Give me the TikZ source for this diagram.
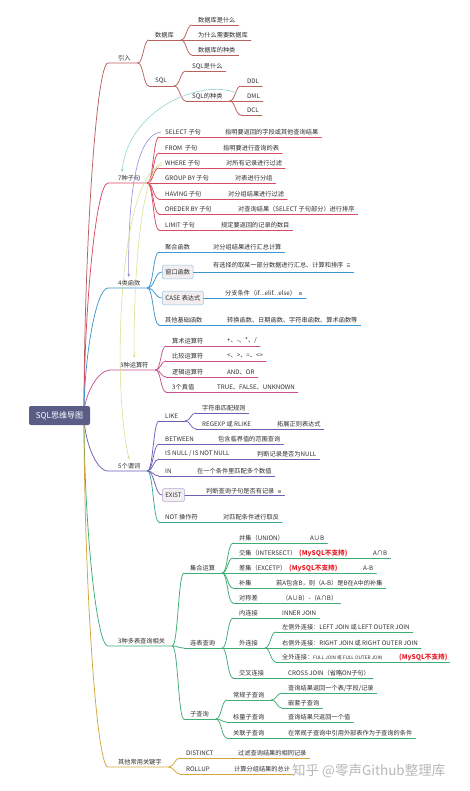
\documentclass[tikz,border=0pt]{standalone}
\usepackage{fontspec}
\setmainfont{Noto Sans CJK SC}
\usetikzlibrary{calc,arrows.meta}
\definecolor{cIntro}{HTML}{B8625E}
\definecolor{cClause}{HTML}{D94A63}
\definecolor{cFunc}{HTML}{3F96CF}
\definecolor{cOper}{HTML}{C8528F}
\definecolor{cPred}{HTML}{6B60B6}
\definecolor{cTeal}{HTML}{3FA796}
\definecolor{cMulti}{HTML}{40AD75}
\definecolor{cOther}{HTML}{D3A63C}
\definecolor{cRoot}{HTML}{5A5E86}
\definecolor{cTxt}{HTML}{2E2E2E}
\definecolor{cRed}{HTML}{E8202A}
\definecolor{cBoxFill}{HTML}{F2EEEF}
\definecolor{relTeal}{HTML}{8CCFD0}
\definecolor{relBlue}{HTML}{8F86DA}
\definecolor{relYel}{HTML}{D8E08E}
\tikzset{
  lbl/.style={font=\fontsize{6.2}{7}\selectfont, text=cTxt, inner sep=0pt, anchor=west},
  redlbl/.style={lbl, text=cRed, font=\fontsize{6.6}{7}\selectfont\bfseries},
  mmline/.style={line width=0.75pt, line cap=round},
  relline/.style={line width=0.55pt, -{Stealth[length=3.2pt,width=2.6pt]}},
  boxn/.style={font=\fontsize{6.2}{7}\selectfont, text=cTxt, draw=#1!55, fill=cBoxFill,
    rounded corners=1.5pt, inner xsep=3pt, inner ysep=4pt, anchor=west, line width=0.6pt},
  rootn/.style={font=\fontsize{8}{9}\selectfont, text=white, fill=cRoot, rounded corners=2pt,
    minimum width=61pt, minimum height=19pt, inner sep=0pt}
}
% curve between two named points
\newcommand{\mmcurve}[3]{%
  \draw[#1,mmline] (#2) .. controls ($(#2)!0.5!(#2 -| #3)$) and ($(#3)!0.5!(#3 -| #2)$) .. (#3);}
% first-level branch
\newcommand{\mmtop}[5]{%
  \node[lbl] (#2) at (#3,#4) {#5};
  \coordinate (#2-s) at ({#3-10},{#4+5});
  \coordinate (#2-f) at ($(#2.east |- #2-s)+(7,0)$);
  \draw[#1,mmline] (rt) .. controls ($(rt)!0.45!(rt |- #2-s)$) and ($(#2-s)+(-12,0)$) .. (#2-s) -- (#2-f);}
% inner node with children
\newcommand{\mmnode}[6]{%
  \node[lbl] (#3) at (#4,#5) {#6};
  \coordinate (#3-s) at ({#4-6},{#5+5});
  \coordinate (#3-f) at ($(#3.east |- #3-s)+(7,0)$);
  \mmcurve{#1}{#2}{#3-s}
  \draw[#1,mmline] (#3-s) -- (#3-f);}
% leaf without description
\newcommand{\mmend}[6]{%
  \node[lbl] (#3) at (#4,#5) {#6};
  \coordinate (#3-s) at ({#4-6},{#5+5});
  \coordinate (#3-e) at ($(#3.east |- #3-s)+(3,0)$);
  \mmcurve{#1}{#2}{#3-s}
  \draw[#1,mmline] (#3-s) -- (#3-e);}
% leaf with description
\newcommand{\mmleaf}[8]{%
  \node[lbl] (#3) at (#4,#5) {#6};
  \node[lbl] (#3-d) at (#7,#5) {#8};
  \coordinate (#3-s) at ({#4-6},{#5+5});
  \coordinate (#3-e) at ($(#3-d.east |- #3-s)+(3,0)$);
  \mmcurve{#1}{#2}{#3-s}
  \draw[#1,mmline] (#3-s) -- (#3-e);}
% boxed node with description and note icon
\newcommand{\mmboxed}[9]{%
  \node[boxn=#1] (#3) at (#4,#5) {#6};
  \node[lbl] (#3-d) at (#7,#8) {#9};
  \mmcurve{#1}{#2}{#3.west}
  \draw[#1,mmline] (#3.east) -- ($(#3-d.east |- #3.east)+(10,0)$);
  \draw[black!35, line width=0.4pt] ($(#3-d.east)+(3,-1.3)$) -- ++(3.2,0)
     ($(#3-d.east)+(3,0)$) -- ++(3.2,0) ($(#3-d.east)+(3,1.3)$) -- ++(3.2,0);}
\begin{document}
\begin{tikzpicture}[x=1pt,y=-1pt]
\fill[white] (0,0) rectangle (469,791);
\useasboundingbox (0,0) rectangle (469,791);
\coordinate (rt) at (84,415);

% ---------- 引入 ----------
\mmtop{cIntro}{intro}{118}{58}{引入}
\mmnode{cIntro}{intro-f}{db}{155}{35}{数据库}
\mmend{cIntro}{db-f}{dba}{198}{20}{数据库是什么}
\mmend{cIntro}{db-f}{dbb}{198}{35}{为什么需要数据库}
\mmend{cIntro}{db-f}{dbc}{198}{50}{数据库的种类}
\mmnode{cIntro}{intro-f}{sql}{155}{81}{SQL}
\mmend{cIntro}{sql-f}{sqla}{192}{66}{SQL是什么}
\mmnode{cIntro}{sql-f}{sqlk}{192}{96}{SQL的种类}
\mmend{cIntro}{sqlk-f}{ddl}{247}{81}{DDL}
\mmend{cIntro}{sqlk-f}{dml}{247}{96}{DML}
\mmend{cIntro}{sqlk-f}{dcl}{247}{110}{DCL}

% ---------- 7种子句 ----------
\mmtop{cClause}{clause}{118}{178}{7种子句}
\mmleaf{cClause}{clause-f}{sel}{165}{132}{SELECT 子句}{225}{指明要返回的字段或其他查询结果}
\mmleaf{cClause}{clause-f}{frm}{165}{148}{FROM \ 子句}{223}{指明要进行查询的表}
\mmleaf{cClause}{clause-f}{whr}{165}{163}{WHERE 子句}{226}{对所有记录进行过滤}
\mmleaf{cClause}{clause-f}{grp}{165}{178}{GROUP BY 子句}{235}{对表进行分组}
\mmleaf{cClause}{clause-f}{hav}{165}{194}{HAVING 子句}{228}{对分组结果进行过滤}
\mmleaf{cClause}{clause-f}{ord}{165}{209}{OREDER BY 子句}{238}{对查询结果（SELECT 子句部分）进行排序}
\mmleaf{cClause}{clause-f}{lim}{165}{225}{LIMIT 子句}{221}{规定要返回的记录的数目}

% ---------- 4类函数 ----------
\mmtop{cFunc}{func}{118}{283}{4类函数}
\mmleaf{cFunc}{func-f}{agg}{165}{247}{聚合函数}{213}{对分组结果进行汇总计算}
\mmboxed{cFunc}{func-f}{win}{162}{272}{窗口函数}{213}{265}{有选择的取某一部分数据进行汇总、计算和排序}
\mmboxed{cFunc}{func-f}{cse}{162}{298}{CASE 表达式}{225}{293}{分支条件（if...elif...else）}
\mmleaf{cFunc}{func-f}{oth}{165}{320}{其他基础函数}{227}{转换函数、日期函数、字符串函数、算术函数等}

% ---------- 3种运算符 ----------
\mmtop{cOper}{oper}{120}{365}{3种运算符}
\mmleaf{cOper}{oper-f}{ari}{172}{341}{算术运算符}{227}{+、-、*、/}
\mmleaf{cOper}{oper-f}{cmp}{172}{356}{比较运算符}{227}{<、>、=、<>}
\mmleaf{cOper}{oper-f}{lgc}{172}{372}{逻辑运算符}{227}{AND、OR}
\mmleaf{cOper}{oper-f}{tru}{172}{387}{3个真值}{217}{TRUE、FALSE、UNKNOWN}

% ---------- 5个谓词 ----------
\mmtop{cPred}{pred}{118}{466}{5个谓词}
\mmnode{cPred}{pred-f}{like}{165}{416}{LIKE}
\mmend{cPred}{like-f}{lka}{202}{408}{字符串匹配规则}
\mmleaf{cPred}{like-f}{lkb}{202}{424}{REGEXP 或 RLIKE}{277}{拓展正则表达式}
\mmleaf{cPred}{pred-f}{btw}{165}{439}{BETWEEN}{218}{包含临界值的范围查询}
\mmleaf{cPred}{pred-f}{isn}{165}{454}{IS NULL / IS NOT NULL}{257}{判断记录是否为NULL}
\mmleaf{cPred}{pred-f}{inn}{165}{471}{IN}{197}{在一个条件里匹配多个数值}
\mmboxed{cPred}{pred-f}{exi}{162}{495}{EXIST}{206}{491}{判断查询子句是否有记录}
\mmleaf{cTeal}{pred-f}{nop}{165}{517}{NOT 操作符}{223}{对匹配条件进行取反}

% ---------- 3种多表查询相关 ----------
\mmtop{cMulti}{multi}{118}{641}{3种多表查询相关}
\mmnode{cMulti}{multi-f}{setop}{190}{568}{集合运算}
\mmleaf{cMulti}{setop-f}{uni}{239}{538}{并集（UNION）}{310}{A∪B}
\node[lbl] (ins) at (239,553) {交集（INTERSECT）};
\node[redlbl] (ins-r) at (299,553) {(MySQL不支持)};
\node[lbl] (ins-d) at (373,553) {A∩B};
\coordinate (ins-s) at (233,558);
\mmcurve{cMulti}{setop-f}{ins-s}
\draw[cMulti,mmline] (ins-s) -- ($(ins-d.east |- ins-s)+(3,0)$);
\node[lbl] (exc) at (239,568) {差集（EXCETP）};
\node[redlbl] (exc-r) at (289,568) {(MySQL不支持)};
\node[lbl] (exc-d) at (363,568) {A-B};
\coordinate (exc-s) at (233,573);
\mmcurve{cMulti}{setop-f}{exc-s}
\draw[cMulti,mmline] (exc-s) -- ($(exc-d.east |- exc-s)+(3,0)$);
\mmleaf{cMulti}{setop-f}{buj}{239}{583}{补集}{276}{若A包含B，则（A-B）是B在A中的补集}
\mmleaf{cMulti}{setop-f}{sym}{239}{598}{对称差}{282}{（A∪B）-（A∩B）}
\mmnode{cMulti}{multi-f}{join}{190}{643}{连表查询}
\mmleaf{cMulti}{join-f}{inj}{239}{613}{内连接}{282}{INNER JOIN}
\mmnode{cMulti}{join-f}{outj}{239}{643}{外连接}
\mmend{cMulti}{outj-f}{lj}{282}{627}{左侧外连接：LEFT JOIN 或 LEFT OUTER JOIN}
\mmend{cMulti}{outj-f}{rj}{282}{643}{右侧外连接：RIGHT JOIN 或 RIGHT OUTER JOIN}
\node[lbl] (fj) at (282,657) {全外连接：{\fontsize{4.7}{5}\selectfont FULL JOIN 或 FULL OUTER JOIN}};
\node[redlbl] (fj-r) at (399,657) {(MySQL不支持)};
\coordinate (fj-s) at (276,662);
\mmcurve{cMulti}{outj-f}{fj-s}
\draw[cMulti,mmline] (fj-s) -- ($(fj-r.east |- fj-s)+(2,0)$);
\mmleaf{cMulti}{join-f}{crj}{239}{673}{交叉连接}{288}{CROSS JOIN（省略ON子句）}
\mmnode{cMulti}{multi-f}{subq}{190}{714}{子查询}
\mmnode{cMulti}{subq-f}{regq}{233}{695}{常规子查询}
\mmend{cMulti}{regq-f}{rqa}{288}{688}{查询结果返回一个表/字段/记录}
\mmend{cMulti}{regq-f}{rqb}{288}{703}{嵌套子查询}
\mmleaf{cMulti}{subq-f}{scq}{233}{717}{标量子查询}{288}{查询结果只返回一个值}
\mmleaf{cMulti}{subq-f}{coq}{233}{733}{关联子查询}{288}{在常规子查询中引用外部表作为子查询的条件}

% ---------- 其他常用关键字 ----------
\mmtop{cOther}{other}{118}{762}{其他常用关键字}
\mmleaf{cOther}{other-f}{dis}{186}{753}{DISTINCT}{238}{过滤查询结果的相同记录}
\mmleaf{cOther}{other-f}{rol}{186}{769}{ROLLUP}{234}{计算分组结果的总计}

% ---------- root ----------
\node[rootn] (root) at (59.5,415.5) {SQL思维导图};

% ---------- relationships ----------
\draw[relTeal,relline] ($(sqlk.east)+(14,-3)$) .. controls (200,78) and (128,110) .. ($(clause.north west)+(4,-3)$);
\draw[relBlue,relline] ($(sel.west)+(-4,0)$) .. controls (135,135) and (128,200) .. ($(func.north)+(-0.5,-3)$);
\draw[relYel,relline] ($(whr.west)+(-3,0)$) .. controls (140,168) and (133,290) .. ($(oper.north)+(0,-4)$);
\draw[relYel,relline] ($(whr.west)+(-3,2)$) .. controls (118,175) and (112,390) .. ($(pred.north)+(0,-3.5)$);

% ---------- watermark ----------
\node[font=\fontsize{13.5}{15}\selectfont, text=black!28, anchor=west, inner sep=0pt] (wm) at (292,771) {知乎 @零声Github整理库};
\end{tikzpicture}
\end{document}
